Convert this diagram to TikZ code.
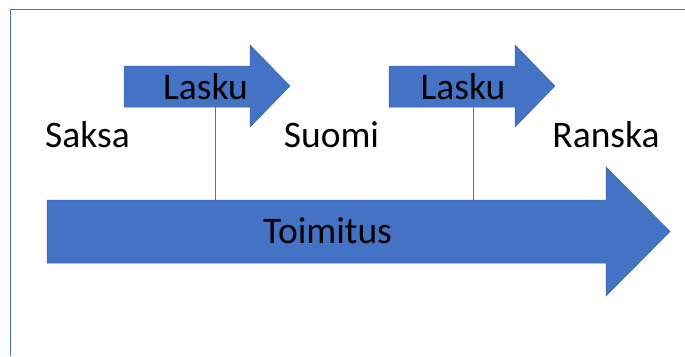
\documentclass[tikz,border=0pt]{standalone}
\usepackage{fontspec}
\setmainfont{Carlito}
\definecolor{officeblue}{HTML}{4472C4}
\definecolor{officeedge}{HTML}{3A64AE}
\tikzset{
    arrowshape/.style={fill=officeblue, draw=officeedge, line width=0.5pt},
    wordtext/.style={anchor=base, inner sep=0pt, font=\fontsize{37.5}{45}\selectfont},
    tieline/.style={draw=officeblue, line width=0.7pt}
}

\begin{document}
\begin{tikzpicture}[x=1pt, y=-1pt]
        \useasboundingbox (0, 0) rectangle (685, 356);

        % Frame
        \draw[officeblue, line width=0.8pt] (10, 356) -- (10, 9) -- (685, 9);

        % Toimitus arrow
        \draw[arrowshape] (47, 200) -- (606, 200) -- (606, 167) -- (670, 231.5) -- (606, 296) -- (606, 263) -- (47, 263) -- cycle;
        \node[wordtext] (toimitus) at (327.5, 243) {Toimitus};

        % Lasku arrows
        \foreach \x/\t/\n in {124/205.5/1, 389/463/2} {
            \draw[arrowshape] (\x, 66) -- (\x + 126, 66) -- (\x + 126, 45) -- (\x + 166, 86) -- (\x + 126, 127) -- (\x + 126, 107) -- (\x, 107) -- cycle;
            \node[wordtext] (lasku\n) at (\t, 99) {Lasku};
        }

        \node[wordtext] (saksa) at (87.5, 147) {Saksa};
        \node[wordtext] (suomi) at (331.5, 147) {Suomi};
        \node[wordtext] (ranska) at (606, 147) {Ranska};

        % Ties between the arrows
        \coordinate (up1) at (215, 107);
        \coordinate (down1) at (215, 200);
        \coordinate (up2) at (473, 107);
        \coordinate (down2) at (473, 200);
        \draw[tieline] (up1) -- (down1);
        \draw[tieline] (up2) -- (down2);

    \end{tikzpicture}
\end{document}
